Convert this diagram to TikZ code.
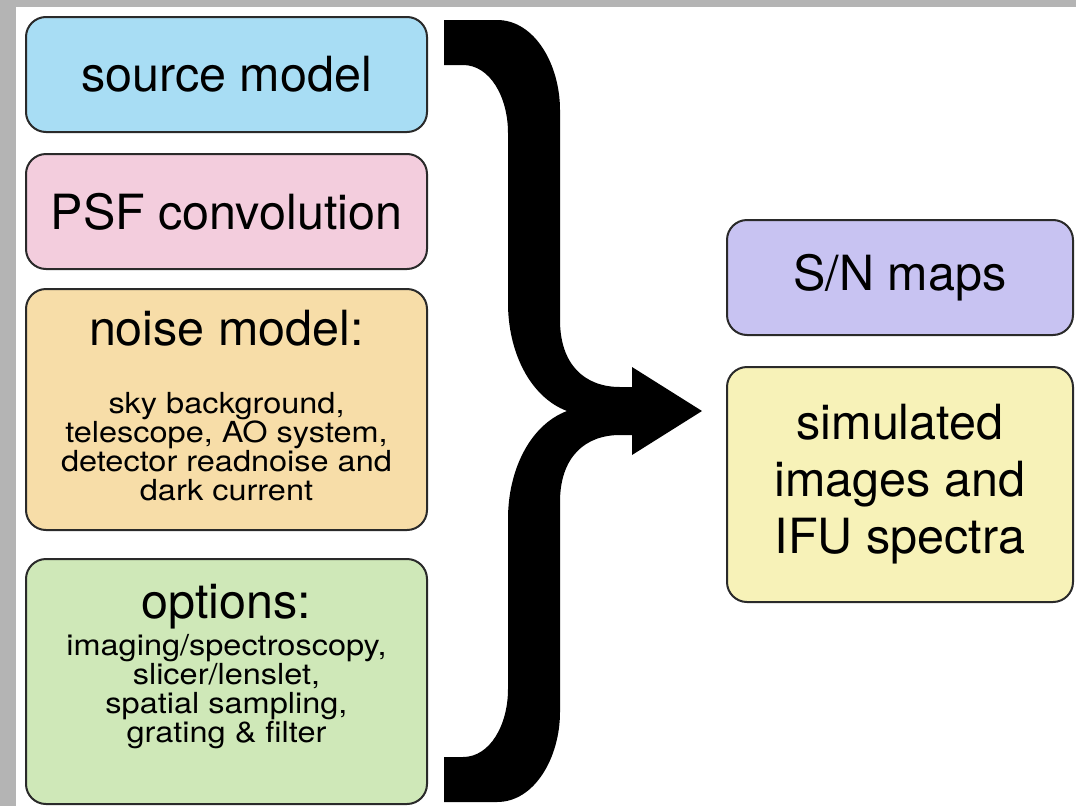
\documentclass[tikz,border=0pt]{standalone}
\usepackage{fontspec}
\setmainfont{TeX Gyre Heros}
\newfontfamily\smallfam[FakeStretch=1.12]{TeX Gyre Heros}
\usetikzlibrary{positioning}
\definecolor{framegray}{HTML}{B4B4B4}
\definecolor{boxline}{HTML}{2A2A2A}
\definecolor{srcblue}{HTML}{A8DDF4}
\definecolor{psfpink}{HTML}{F3CDDD}
\definecolor{noiseorange}{HTML}{F7DDA8}
\definecolor{optgreen}{HTML}{CFE8B8}
\definecolor{snviolet}{HTML}{C8C3F2}
\definecolor{simyellow}{HTML}{F7F2B8}
\newcommand{\fixspace}{\spaceskip=\fontdimen2\font\xspaceskip=\fontdimen2\font\lineskiplimit=-100pt\relax}
\newcommand{\bigtxt}{\fontsize{48.5}{57}\selectfont\fixspace}
\newcommand{\smalltxt}{\smallfam\fontsize{29}{29}\selectfont\fixspace}

\begin{document}
\begin{tikzpicture}[x=1pt,y=-1pt,
		box/.style={draw=boxline,line width=2pt,rounded corners=20pt,align=center,inner sep=0pt},
		lbox/.style={box,minimum width=401pt,text width=395pt},
		rbox/.style={box,minimum width=346pt,text width=340pt}]

		\fill[framegray] (0,0) rectangle (1076,806);
		\fill[white] (16,7) rectangle (1076,806);
		\useasboundingbox (0,0) rectangle (1076,806);

		\node(src)   [lbox,fill=srcblue,minimum height=115pt] at (226.5,74.5) {\bigtxt source model};
		\node(psf)   [lbox,fill=psfpink,minimum height=115pt,below=20pt of src] {\bigtxt PSF convolution};
		\node(noise) [lbox,fill=noiseorange,minimum height=241pt,below=18pt of psf]
			{{\bigtxt noise model:\par}\vspace{39pt}\smalltxt sky background,\\ telescope, AO system,\\ detector readnoise and\\ dark current\par\kern8pt};
		\node(opt)   [lbox,fill=optgreen,minimum height=245pt,below=27pt of noise]
			{{\bigtxt options:\par}\vspace{8pt}\smalltxt imaging/spectroscopy,\\ slicer/lenslet,\\ spatial sampling,\\ grating \& filter\par\kern30pt};

		\node(sn)  [rbox,fill=snviolet,minimum height=115pt] at (900,277.5) {\bigtxt S/N maps};
		\node(sim) [rbox,fill=simyellow,minimum height=235pt,below=30pt of sn] {\bigtxt simulated\\ images and\\ IFU spectra\par};

		\fill[black] (444,20) -- (497,20) .. controls (535,20) and (560,65) .. (560,110)
			-- (560,320) .. controls (560,365) and (585,387) .. (620,387)
			-- (632,387) -- (632,367) -- (702,411) -- (632,455) -- (632,435) -- (620,435)
			.. controls (585,435) and (560,457) .. (560,502)
			-- (560,712) .. controls (560,757) and (535,802) .. (497,802)
			-- (444,802) -- (444,757) -- (463,757) .. controls (490,757) and (508,725) .. (508,689)
			-- (508,519) .. controls (508,470) and (530,425) .. (567,411)
			.. controls (530,397) and (508,352) .. (508,303)
			-- (508,133) .. controls (508,97) and (490,65) .. (463,65)
			-- (444,65) -- cycle;
	\end{tikzpicture}
\end{document}
